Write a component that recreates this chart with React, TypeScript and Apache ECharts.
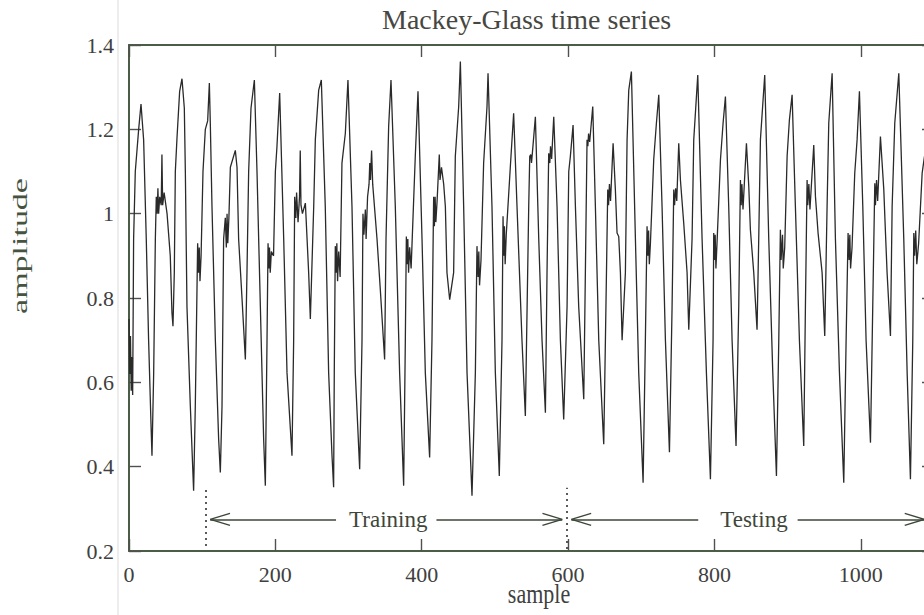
import React, { useEffect, useRef } from "react";
import * as echarts from "echarts";

// ---- data: [sample, amplitude] ----
const mackeyGlass: [number, number][] = [
  [0, 0.75], [1, 0.62], [2, 0.71], [3, 0.58], [4, 0.66], [5, 0.57],
  [6.3, 0.94], [8.6, 1.1], [13.2, 1.2], [16.4, 1.26], [20, 1.175], [23.6, 0.94], [26.8, 0.7], [30, 0.505], [31.4, 0.426],
  [33.7, 0.62], [36, 0.94], [37.3, 1.04], [38.5, 1.0], [39.5, 1.06], [40.5, 1.0], [42, 1.04], [44, 1.02], [45, 1.14], [46, 1.02], [48, 1.05], [52, 1.0],
  [56.4, 0.9], [58.7, 0.765], [60.1, 0.733], [61.9, 0.86], [63.3, 1.1], [65.6, 1.18], [69.2, 1.29], [72.4, 1.32], [75.6, 1.25], [77, 1.1], [79.2, 0.78], [83.8, 0.544], [88.3, 0.343],
  [90.6, 0.544], [92.9, 0.82], [93.8, 0.93], [95, 0.86], [96, 0.92], [97, 0.84], [98.5, 0.9], [101.1, 1.1], [104.3, 1.2], [107.5, 1.22], [109.8, 1.31], [111.1, 1.215], [113.4, 1.017], [118, 0.7], [122.5, 0.465], [124.8, 0.386],
  [127.1, 0.544], [129.3, 0.94], [131.6, 0.99], [133, 0.92], [134, 1.0], [135, 0.93], [136.5, 0.99], [138.5, 1.11], [145.3, 1.15], [147.6, 1.11], [149.8, 0.94], [154.4, 0.8], [159, 0.654],
  [161.2, 0.86], [163.5, 1.1], [166.7, 1.25], [171.3, 1.317], [174.9, 1.1], [179.5, 0.78], [184, 0.465], [186.3, 0.355],
  [188.6, 0.7], [190, 0.93], [191, 0.87], [192, 0.92], [193, 0.86], [194.5, 0.91], [197.5, 0.9], [200, 1.1], [202.2, 1.16], [205.9, 1.286], [211.4, 0.94], [215.9, 0.623], [222.7, 0.426],
  [225, 0.7], [226.4, 1.04], [228, 0.99], [229, 1.05], [231, 0.98], [233, 1.04], [234, 1.15], [235, 1.02], [237, 1.0], [241, 1.025], [245.5, 0.86], [247.8, 0.75],
  [252.4, 1.017], [254.6, 1.175], [259.2, 1.293], [262.8, 1.317],
  [268.2, 1.017], [272.8, 0.623], [277.4, 0.426], [279.6, 0.351],
  [280.5, 0.623], [281.9, 0.923], [283, 0.86], [284, 0.93], [285, 0.84], [286.5, 0.91], [288.5, 0.85], [291, 1.12], [295.6, 1.19], [299.2, 1.317], [304.7, 1.017], [309.2, 0.623], [315.2, 0.394],
  [318.4, 0.7], [319.7, 1.0], [321, 0.95], [323, 1.01], [324, 0.94], [326, 1.04], [328, 1.07], [329, 1.12], [330, 1.08], [331.5, 1.15], [333, 1.07], [338.9, 0.94], [343.4, 0.82], [349.3, 0.654],
  [351.2, 0.94], [354.8, 1.207], [358, 1.317], [363.9, 1.017], [369.8, 0.623], [375.3, 0.355],
  [377.6, 0.7], [379, 0.946], [380, 0.88], [381, 0.94], [382, 0.86], [383.5, 0.92], [385.5, 0.87], [391.2, 1.136], [394.9, 1.29], [400.4, 0.94], [404.9, 0.623], [410.8, 0.422],
  [414, 0.7], [416.3, 1.04], [417.3, 0.97], [418.3, 1.04], [419.3, 0.98], [421, 1.03], [424, 1.14], [425, 1.08], [427, 1.11], [430, 1.07], [432.3, 1.017], [434.5, 0.86], [438.2, 0.796], [443.6, 0.86],
  [445.9, 1.136], [450.5, 1.254], [452.8, 1.361], [457.3, 1.017], [461.9, 0.623], [468.7, 0.331],
  [473.3, 0.623], [475.5, 0.923], [477, 0.85], [478, 0.91], [479, 0.83], [481, 0.89], [484.6, 1.12], [489.2, 1.254], [490.6, 1.333], [496, 1.017], [500.6, 0.623], [506, 0.378],
  [509.7, 0.7], [511.1, 0.994], [512, 0.9], [513, 0.97], [514, 0.88], [515.5, 0.95], [521.1, 1.112], [525.6, 1.238], [530.2, 1.017], [537, 0.7], [541.6, 0.52],
  [546.2, 1.017], [547.6, 1.136], [549, 1.14], [550, 1.12], [551.5, 1.15], [555.3, 1.23], [559.9, 0.94], [564.4, 0.7], [569, 0.528],
  [571.2, 0.86], [573.5, 1.143], [575, 1.12], [576, 1.16], [577.5, 1.13], [580.4, 1.23], [584.9, 1.017], [589.5, 0.7], [594, 0.512],
  [598.6, 0.78], [600.9, 1.1], [603.1, 1.136], [606.8, 1.21], [610, 1.017], [614.5, 0.78], [621.4, 0.56],
  [623.6, 0.86], [625.9, 1.175], [627, 1.16], [628, 1.19], [629.5, 1.17], [633.7, 1.254], [637.3, 1.017], [641.9, 0.7], [648.7, 0.453],
  [651, 0.7], [654.2, 1.057], [655.3, 1.02], [656.5, 1.07], [658, 1.03], [661.5, 1.167], [664.6, 1.057], [666.9, 0.954], [669.2, 0.946], [671.5, 0.86], [673.8, 0.7],
  [678.3, 0.86], [680.6, 1.175], [682.9, 1.293], [686.5, 1.337], [692, 0.94], [696.5, 0.623], [702.5, 0.362],
  [705.6, 0.7], [707.9, 0.97], [709, 0.9], [710, 0.96], [711, 0.88], [712.5, 0.93], [717, 1.128], [720.7, 1.215], [723.9, 1.282], [728.4, 1.017], [733, 0.7], [738.5, 0.434],
  [742.1, 0.78], [744.4, 1.057], [745.5, 1.02], [747, 1.06], [748.5, 1.03], [751.2, 1.167], [753.5, 1.08], [758, 0.978], [762.6, 0.86], [764.9, 0.725],
  [769.4, 0.94], [771.7, 1.175], [777.2, 1.329], [783.1, 0.94], [789, 0.623], [794.5, 0.37],
  [798.1, 0.7], [799, 0.954], [800, 0.89], [801, 0.95], [802, 0.87], [803.5, 0.93], [808.2, 1.128], [811.8, 1.215], [815, 1.278],
  [819.5, 1.017], [824.1, 0.7], [829.5, 0.449],
  [833.2, 0.78], [835.5, 1.08], [836.5, 1.02], [837.5, 1.07], [839, 1.01], [843.7, 1.167], [846.9, 1.065], [849.1, 0.962], [853.7, 0.86], [858.2, 0.725],
  [860.5, 0.94], [862.8, 1.175], [868.7, 1.329], [874.2, 0.94], [879.7, 0.623], [884.7, 0.378],
  [887.9, 0.7], [890.1, 0.962], [891, 0.89], [893, 0.95], [894, 0.87], [896, 0.92], [899.3, 1.136], [902.4, 1.222], [906.1, 1.282], [910.6, 1.017], [916.1, 0.7], [922, 0.449],
  [924.3, 0.78], [926.6, 1.08], [927.5, 1.02], [929, 1.07], [930.5, 1.01], [935.7, 1.163], [938, 1.041], [941.6, 0.954], [947.1, 0.86], [950.7, 0.71],
  [953.9, 1.017], [956.2, 1.215], [960.8, 1.333], [965.3, 0.94], [970.8, 0.623], [976.7, 0.362],
  [979.9, 0.7], [982.6, 0.954], [984, 0.89], [985, 0.95], [986, 0.87], [988, 0.92], [991.7, 1.096], [994.9, 1.175], [998.1, 1.29], [1002.7, 1.017], [1007.2, 0.7], [1013.2, 0.457],
  [1016.3, 0.78], [1019.1, 1.072], [1020, 1.02], [1021.5, 1.08], [1023, 1.03], [1026.8, 1.183], [1031.4, 1.057], [1033.7, 0.954], [1035.9, 0.86], [1040.5, 0.71],
  [1042.8, 1.017], [1046.4, 1.215], [1051.9, 1.333], [1058.7, 0.94], [1063.3, 0.623], [1067.8, 0.37],
  [1071, 0.7], [1072.4, 0.954], [1073.5, 0.9], [1075, 0.96], [1076.5, 0.88], [1079, 0.93], [1083.8, 1.096], [1087, 1.136],
];

const xRange = [0, 1100];
const xStep = 200;
const xTickLabels = ["0", "200", "400", "600", "800", "1000"];
const yRange = [0.2, 1.4];
const yStep = 0.2;

const splitMarkers = [105, 598]; // dotted separators
const trainingSpan = [111, 592];
const testingSpan = [604.5, 1087];
const arrowLevel = 0.275;
const headLen = 27; // in samples
const headHalf = 0.0142; // in amplitude units

const TITLE = "Mackey-Glass time series";
const X_NAME = "sample";
const Y_NAME = "amplitude";

const FRAME = "#4b5d46";
const TEXT = "#404040";
const SERIF = '"Liberation Serif", "Times New Roman", serif';

function head(tipX: number, dir: number) {
  const back = tipX + dir * headLen;
  return [
    [{ coord: [tipX, arrowLevel] }, { coord: [back, arrowLevel + headHalf] }],
    [{ coord: [tipX, arrowLevel] }, { coord: [back, arrowLevel - headHalf] }],
  ];
}

export default function App() {
  const ref = useRef<HTMLDivElement>(null);
  useEffect(() => {
    if (!ref.current) return;
    const chart = echarts.init(ref.current, null, { renderer: "svg" });
    const axisLine = { show: true, onZero: false, lineStyle: { color: FRAME, width: 2 } };
    const axisTick = { show: true, inside: true, length: 12, lineStyle: { color: "#505050", width: 1.4 } };
    const labelStyle = { fontFamily: SERIF, fontSize: 22, color: TEXT };

    const option: any = {
      animation: false,
      backgroundColor: "#ffffff",
      title: {
        text: TITLE,
        left: 382,
        top: 5,
        padding: 0,
        textStyle: { fontFamily: SERIF, fontSize: 28, fontWeight: "normal", color: "#474742" },
      },
      grid: { left: 129, top: 45, width: 805, height: 506 },
      xAxis: [
        {
          type: "value", position: "bottom", min: xRange[0], max: xRange[1], interval: xStep,
          axisLine, axisTick, splitLine: { show: false },
          axisLabel: {
            ...labelStyle, margin: 12, showMaxLabel: false,
            formatter: (v: number) => {
              const i = Math.round(v / xStep);
              return Math.abs(v - i * xStep) < 1e-6 && i < xTickLabels.length ? xTickLabels[i] : "";
            },
          },
        },
        {
          type: "value", position: "top", min: xRange[0], max: xRange[1], interval: xStep,
          axisLine, axisTick, splitLine: { show: false }, axisLabel: { show: false },
        },
      ],
      yAxis: [
        {
          type: "value", position: "left", min: yRange[0], max: yRange[1], interval: yStep,
          axisLine, axisTick, splitLine: { show: false },
          axisLabel: {
            ...labelStyle, margin: 15, padding: [8, 0, 0, 0],
            formatter: (v: number) => String(Math.round(v * 10) / 10),
          },
        },
        {
          type: "value", position: "right", min: yRange[0], max: yRange[1], interval: yStep,
          axisLine, axisTick, splitLine: { show: false }, axisLabel: { show: false },
        },
      ],
      graphic: [
        { type: "line", silent: true, shape: { x1: 118, y1: 0, x2: 118, y2: 615 }, style: { stroke: "#ededed", lineWidth: 2 } },
        {
          type: "text", x: 20, y: 246, rotation: Math.PI / 2, scaleX: 1.7,
          style: { text: Y_NAME, font: `20px ${SERIF}`, fill: "#46543f", textAlign: "center", textVerticalAlign: "middle" },
        },
        {
          type: "text", x: 539, y: 594, scaleY: 1.25,
          style: { text: X_NAME, font: `22px ${SERIF}`, fill: TEXT, textAlign: "center", textVerticalAlign: "middle" },
        },
      ],
      series: [
        {
          type: "line",
          data: mackeyGlass,
          symbol: "none",
          showSymbol: false,
          clip: true,
          lineStyle: { color: "#2a2a2a", width: 1.3 },
          markLine: {
            silent: true,
            symbol: "none",
            animation: false,
            label: { show: false },
            lineStyle: { color: "#3c4739", width: 1.5, type: "solid" },
            data: [
              [{ coord: [splitMarkers[0], 0.212], lineStyle: { type: [2, 4], color: "#333", width: 1.6 } }, { coord: [splitMarkers[0], 0.345] }],
              [{ coord: [splitMarkers[1], 0.205], lineStyle: { type: [2, 4], color: "#333", width: 1.6 } }, { coord: [splitMarkers[1], 0.35] }],
              [
                {
                  coord: [trainingSpan[0], arrowLevel],
                  label: {
                    show: true, position: "insideMiddle", formatter: "Training",
                    fontFamily: SERIF, fontSize: 23, color: "#3e463a",
                    backgroundColor: "#ffffff", padding: [2, 9, 2, 13],
                  },
                },
                { coord: [trainingSpan[1], arrowLevel] },
              ],
              ...head(trainingSpan[0], 1),
              ...head(trainingSpan[1], -1),
              [
                {
                  coord: [testingSpan[0], arrowLevel],
                  label: {
                    show: true, position: "insideMiddle", formatter: "Testing",
                    fontFamily: SERIF, fontSize: 23, color: "#3e463a",
                    backgroundColor: "#ffffff", padding: [2, 10, 2, 22],
                  },
                },
                { coord: [testingSpan[1], arrowLevel] },
              ],
              ...head(testingSpan[0], 1),
              ...head(testingSpan[1], -1),
            ],
          },
        },
      ],
    };
    chart.setOption(option);
    return () => chart.dispose();
  }, []);

  return (
    <div style={{ position: "fixed", left: 0, top: 0, width: 924, height: 615, overflow: "hidden", background: "#fff" }}>
      <div ref={ref} style={{ width: 1000, height: 615 }} />
    </div>
  );
}
